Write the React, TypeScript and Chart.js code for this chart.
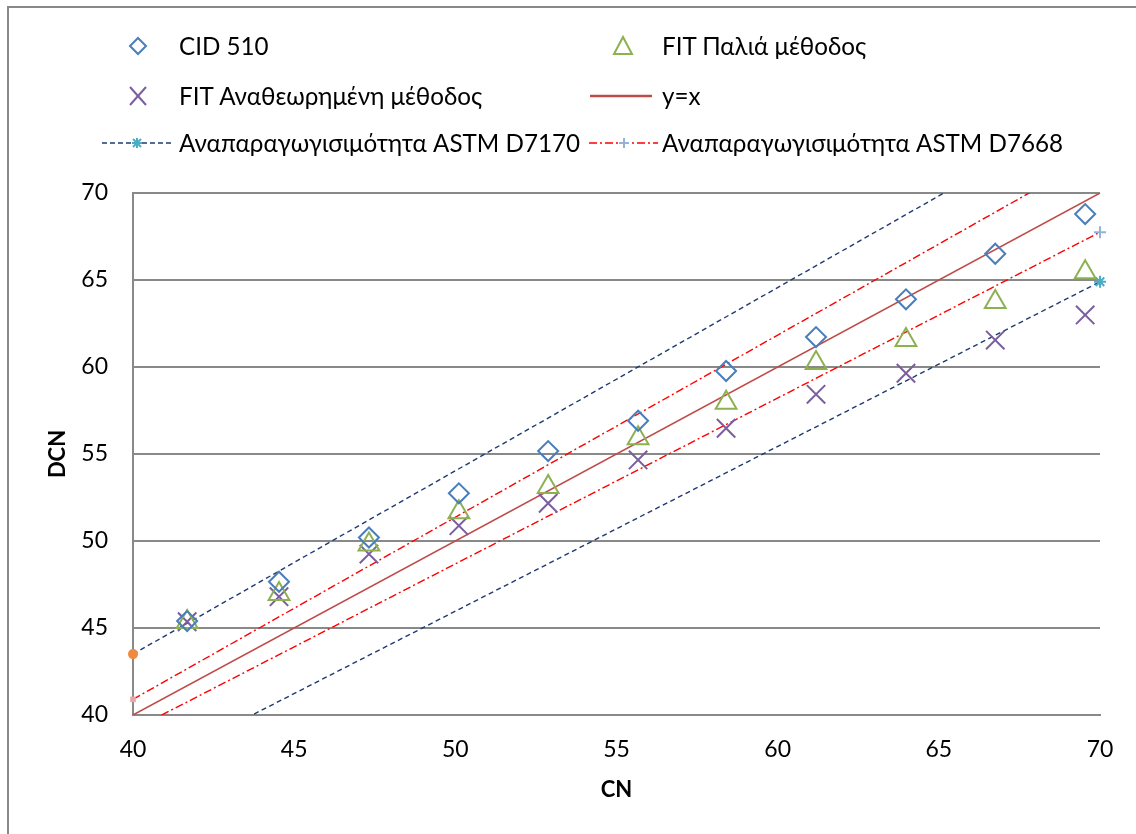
import React, { useEffect, useRef } from "react";
import { Chart, registerables } from "chart.js";
Chart.register(...registerables);

// ---- data ----
const cnValues = [41.68, 44.53, 47.32, 50.11, 52.88, 55.67, 58.4, 61.19, 63.98, 66.75, 69.54];
const cid510 = [45.4, 47.66, 50.2, 52.74, 55.17, 56.91, 59.77, 61.72, 63.89, 66.51, 68.79];
const fitOld = [45.35, 46.95, 49.8, 51.65, 53.1, 55.9, 57.95, 60.23, 61.55, 63.74, 65.44];
const fitRevised = [45.36, 46.8, 49.25, 50.88, 52.17, 54.66, 56.48, 58.43, 59.64, 61.55, 62.99];
const lineX = [40, 70];
const identityY = [40, 70];
const d7170Upper = [43.5, 75.1];
const d7170Lower = [36.5, 64.9];
const d7668Upper = [40.9, 72.3];
const d7668Lower = [39.15, 67.75];
const axisTicks = [40, 45, 50, 55, 60, 65, 70];
const seriesNames = [
  "CID 510",
  "FIT Παλιά μέθοδος",
  "FIT Αναθεωρημένη μέθοδος",
  "y=x",
  "Αναπαραγωγισιμότητα ASTM D7170",
  "Αναπαραγωγισιμότητα ASTM D7668",
];
const xTitle = "CN";
const yTitle = "DCN";

// ---- styles ----
const FONT = "Lato, 'Noto Sans', sans-serif";
const C_BLUE = "#4A7EBB";
const C_GREEN = "#8DB150";
const C_PURPLE = "#7A5E9E";
const C_RED = "#BE4B48";
const C_NAVY = "#1F3A70";
const C_DASHRED = "#FF0000";
const C_TEAL = "#4BACC6";
const C_PLUS = "#95B3D7";
const C_ORANGE = "#F08A3C";
const C_PINK = "#E6A8A6";
const C_GRID = "#898989";

const toXY = (xs: number[], ys: number[]) => xs.map((x, i) => ({ x, y: ys[i] }));

function LegendIcon({ kind }: { kind: string }) {
  const w = 72, h = 26, cx = 36, cy = 13;
  let content: React.ReactNode = null;
  if (kind === "diamond") {
    content = <polygon points={`${cx},${cy - 8} ${cx + 8},${cy} ${cx},${cy + 8} ${cx - 8},${cy}`} fill="none" stroke={C_BLUE} strokeWidth={2} />;
  } else if (kind === "triangle") {
    content = <polygon points={`${cx},${cy - 9} ${cx + 9},${cy + 8} ${cx - 9},${cy + 8}`} fill="none" stroke={C_GREEN} strokeWidth={2} />;
  } else if (kind === "x") {
    content = (
      <g stroke={C_PURPLE} strokeWidth={2}>
        <line x1={cx - 8} y1={cy - 9} x2={cx + 8} y2={cy + 9} />
        <line x1={cx + 8} y1={cy - 9} x2={cx - 8} y2={cy + 9} />
      </g>
    );
  } else if (kind === "identity") {
    content = <line x1={2} y1={cy} x2={64} y2={cy} stroke={C_RED} strokeWidth={2.5} />;
  } else if (kind === "d7170") {
    content = (
      <g>
        <line x1={1} y1={cy} x2={70} y2={cy} stroke={C_NAVY} strokeWidth={1.5} strokeDasharray="5 3" />
        <g stroke={C_TEAL} strokeWidth={2}>
          <line x1={cx - 5} y1={cy} x2={cx + 5} y2={cy} />
          <line x1={cx} y1={cy - 5} x2={cx} y2={cy + 5} />
          <line x1={cx - 4} y1={cy - 4} x2={cx + 4} y2={cy + 4} />
          <line x1={cx + 4} y1={cy - 4} x2={cx - 4} y2={cy + 4} />
        </g>
      </g>
    );
  } else if (kind === "d7668") {
    content = (
      <g>
        <line x1={1} y1={cy} x2={70} y2={cy} stroke={C_DASHRED} strokeWidth={1.5} strokeDasharray="8 3 2 3" />
        <g stroke={C_PLUS} strokeWidth={2}>
          <line x1={cx - 5} y1={cy} x2={cx + 5} y2={cy} />
          <line x1={cx} y1={cy - 5} x2={cx} y2={cy + 5} />
        </g>
      </g>
    );
  }
  return (
    <svg width={w} height={h} style={{ position: "absolute", left: -cx, top: -cy, overflow: "visible" }}>
      {content}
    </svg>
  );
}

const legendItems = [
  { kind: "diamond", name: seriesNames[0], iconX: 138, textX: 179, rowY: 46 },
  { kind: "triangle", name: seriesNames[1], iconX: 623, textX: 662, rowY: 46 },
  { kind: "x", name: seriesNames[2], iconX: 138, textX: 179, rowY: 96 },
  { kind: "identity", name: seriesNames[3], iconX: 624, textX: 662, rowY: 96 },
  { kind: "d7170", name: seriesNames[4], iconX: 137, textX: 179, rowY: 143 },
  { kind: "d7668", name: seriesNames[5], iconX: 624, textX: 662, rowY: 143 },
];

export default function App() {
  const ref = useRef<HTMLCanvasElement | null>(null);

  useEffect(() => {
    if (!ref.current) return;
    const lineClip = { left: 12, right: 12, top: 0, bottom: 0 };
    const chart = new Chart(ref.current, {
      type: "scatter",
      data: {
        datasets: [
          {
            label: seriesNames[0],
            data: toXY(cnValues, cid510),
            pointStyle: "rectRot",
            pointRadius: 10,
            pointBorderWidth: 2,
            borderColor: C_BLUE,
            backgroundColor: "rgba(0,0,0,0)",
          },
          {
            label: seriesNames[1],
            data: toXY(cnValues, fitOld),
            pointStyle: "triangle",
            pointRadius: 12,
            pointBorderWidth: 2,
            borderColor: C_GREEN,
            backgroundColor: "rgba(0,0,0,0)",
          },
          {
            label: seriesNames[2],
            data: toXY(cnValues, fitRevised),
            pointStyle: "crossRot",
            pointRadius: 13,
            pointBorderWidth: 2,
            borderColor: C_PURPLE,
            backgroundColor: "rgba(0,0,0,0)",
          },
          {
            label: seriesNames[3],
            data: toXY(lineX, identityY),
            showLine: true,
            borderColor: C_RED,
            borderWidth: 1.5,
            pointRadius: 0,
            clip: lineClip,
          },
          {
            label: seriesNames[4],
            data: toXY(lineX, d7170Lower),
            showLine: true,
            borderColor: C_NAVY,
            borderWidth: 1.4,
            borderDash: [5, 3.5],
            pointStyle: "star",
            pointRadius: 6,
            pointBorderWidth: 2,
            pointBorderColor: C_TEAL,
            pointBackgroundColor: C_TEAL,
            clip: lineClip,
          },
          {
            label: "D7170 upper",
            data: toXY(lineX, d7170Upper),
            showLine: true,
            borderColor: C_NAVY,
            borderWidth: 1.4,
            borderDash: [5, 3.5],
            pointStyle: "circle",
            pointRadius: 5,
            pointBorderWidth: 0,
            pointBorderColor: C_ORANGE,
            pointBackgroundColor: C_ORANGE,
            clip: lineClip,
          },
          {
            label: seriesNames[5],
            data: toXY(lineX, d7668Lower),
            showLine: true,
            borderColor: C_DASHRED,
            borderWidth: 1.4,
            borderDash: [8, 3, 2, 3],
            pointStyle: "cross",
            pointRadius: 6,
            pointBorderWidth: 2,
            pointBorderColor: C_PLUS,
            pointBackgroundColor: C_PLUS,
            clip: lineClip,
          },
          {
            label: "D7668 upper",
            data: toXY(lineX, d7668Upper),
            showLine: true,
            borderColor: C_DASHRED,
            borderWidth: 1.4,
            borderDash: [8, 3, 2, 3],
            pointStyle: "rect",
            pointRadius: 4,
            pointBorderWidth: 0,
            pointBorderColor: C_PINK,
            pointBackgroundColor: C_PINK,
            clip: lineClip,
          },
        ],
      },
      options: {
        animation: false,
        responsive: false,
        events: [],
        layout: { padding: { left: 0, top: 193, right: 36, bottom: 0 } },
        plugins: { legend: { display: false }, tooltip: { enabled: false } },
        scales: {
          x: {
            type: "linear",
            min: 40,
            max: 70,
            afterBuildTicks: (s: any) => {
              s.ticks = axisTicks.map((v) => ({ value: v }));
            },
            afterFit: (s: any) => {
              s.height = 119;
            },
            grid: { display: false, drawTicks: false },
            border: { display: true, color: C_GRID, width: 2 },
            ticks: { padding: 21, color: "#000", font: { family: FONT, size: 23 } },
            title: {
              display: true,
              text: xTitle,
              color: "#000",
              font: { family: FONT, size: 22, weight: "bold" },
              padding: { top: 31, bottom: 31 },
            },
          },
          y: {
            type: "linear",
            min: 40,
            max: 70,
            afterBuildTicks: (s: any) => {
              s.ticks = axisTicks.map((v) => ({ value: v }));
            },
            afterFit: (s: any) => {
              s.width = 133;
            },
            grid: { display: true, drawTicks: false, color: C_GRID, lineWidth: 2 },
            border: { display: true, color: C_GRID, width: 2 },
            ticks: { padding: 25, color: "#000", font: { family: FONT, size: 23 } },
            title: {
              display: true,
              text: yTitle,
              color: "#000",
              font: { family: FONT, size: 22, weight: "bold" },
              padding: { top: 45, bottom: 0 },
            },
          },
        },
      },
    } as any);
    return () => chart.destroy();
  }, []);

  const legendFont = 24.2;
  return (
    <div style={{ position: "fixed", left: 0, top: 0, width: 1136, height: 834, overflow: "hidden", background: "#fff" }}>
      <div
        style={{
          position: "absolute",
          left: 7,
          top: 6,
          width: 1300,
          height: 1000,
          border: `2px solid ${C_GRID}`,
          boxSizing: "border-box",
        }}
      />
      <canvas ref={ref} width={1136} height={834} style={{ position: "absolute", left: 0, top: 0, width: 1136, height: 834 }} />
      {legendItems.map((it, i) => (
        <React.Fragment key={i}>
          <div style={{ position: "absolute", left: it.iconX, top: it.rowY, width: 0, height: 0 }}>
            <LegendIcon kind={it.kind} />
          </div>
          <div
            style={{
              position: "absolute",
              left: it.textX,
              top: it.rowY - 0.63 * legendFont,
              fontFamily: FONT,
              fontSize: legendFont,
              lineHeight: 1.2,
              whiteSpace: "nowrap",
              color: "#000",
            }}
          >
            {it.name}
          </div>
        </React.Fragment>
      ))}
    </div>
  );
}
